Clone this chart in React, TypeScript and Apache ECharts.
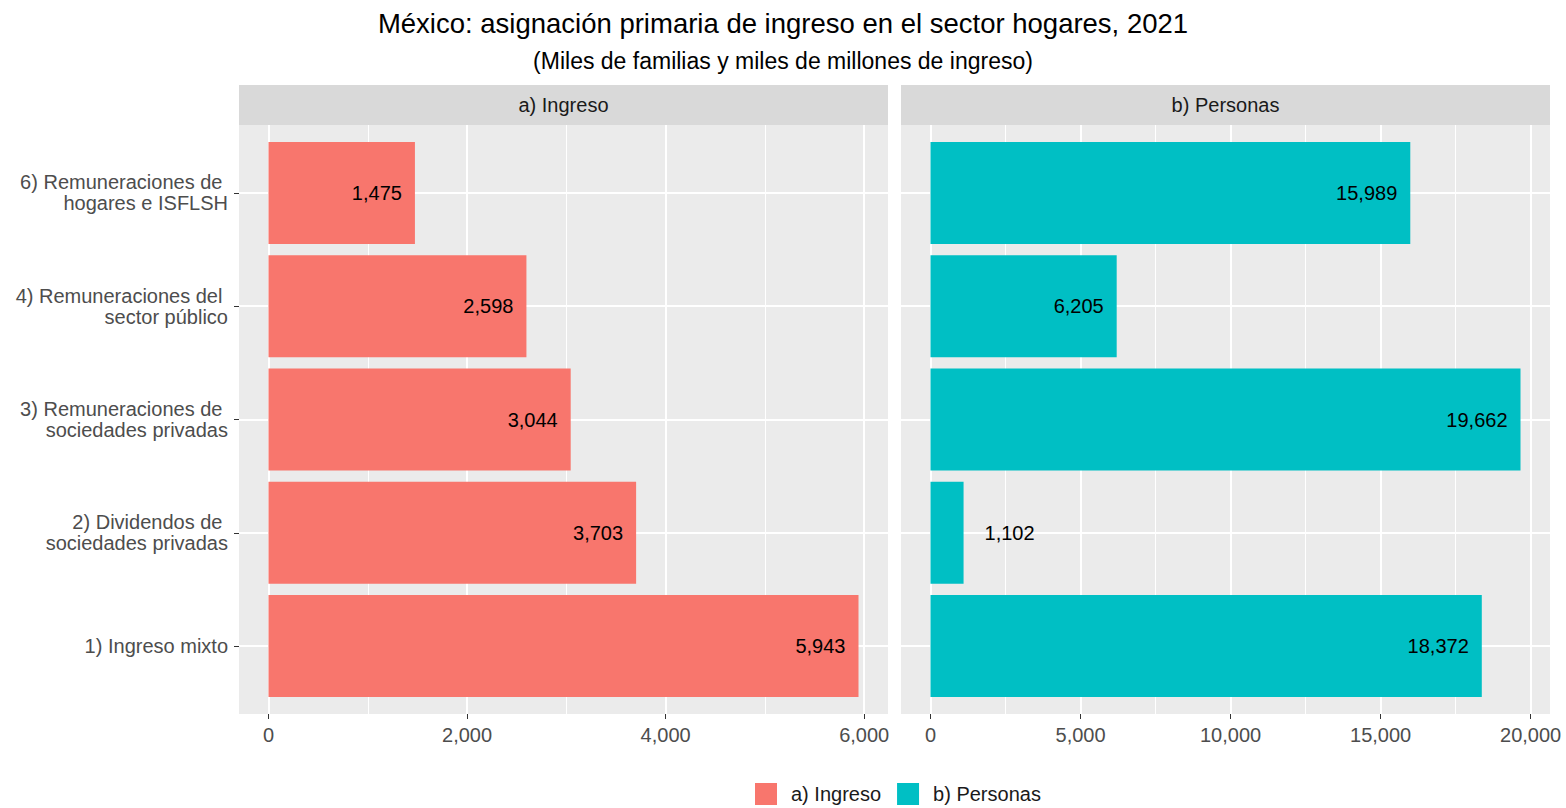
import React, { useEffect, useRef } from "react";
import * as echarts from "echarts";

const categories = [
  "1) Ingreso mixto",
  "2) Dividendos de \nsociedades privadas",
  "3) Remuneraciones de \nsociedades privadas",
  "4) Remuneraciones del \nsector público",
  "6) Remuneraciones de \nhogares e ISFLSH",
];
const ingreso = [5943, 3703, 3044, 2598, 1475];
const personas = [18372, 1102, 19662, 6205, 15989];
const ingresoTicks = [0, 2000, 4000, 6000];
const ingresoMinor = [1000, 3000, 5000];
const personasTicks = [0, 5000, 10000, 15000, 20000];
const personasMinor = [2500, 7500, 12500, 17500];
const panelNames = ["a) Ingreso", "b) Personas"];
const colors = ["#F8766D", "#00BFC4"];

const FONT = '"Liberation Sans", Arial, Helvetica, sans-serif';
const fmt = (v: number) => v.toLocaleString("en-US");

export default function App() {
  const ref = useRef<HTMLDivElement>(null);
  useEffect(() => {
    if (!ref.current) return;
    const chart = echarts.init(ref.current, undefined, { renderer: "svg" });

    const PT = 125, PB = 714, PH = PB - PT;
    const step = PH / 5.2;
    const inset = step * 0.1;
    const panels = [
      { x: 239, w: 649 },
      { x: 901, w: 649 },
    ];
    const exp = (arr: number[]) => {
      const m = Math.max(...arr);
      return [-0.05 * m, m * 1.05];
    };
    const extA = exp(ingreso);
    const extB = exp(personas);

    const grids: any[] = [];
    panels.forEach((p) => {
      grids.push({ left: p.x, top: PT, width: p.w, height: PH, show: true, backgroundColor: "#EBEBEB", borderWidth: 0 });
      grids.push({ left: p.x, top: PT + inset, width: p.w, height: PH - 2 * inset, show: false });
    });

    const tickStyle = { show: true, length: 5, lineStyle: { color: "#333333", width: 1 } };
    const labelStyle = { color: "#4D4D4D", fontSize: 20, fontFamily: FONT };
    const noLine = { show: false, onZero: false };

    const mkX = (grid: number, ext: number[], major: number[], minor: number[]) => [
      {
        type: "value", gridIndex: grid, min: ext[0], max: ext[1], position: "bottom",
        axisLine: noLine,
        axisTick: { ...tickStyle, customValues: major },
        axisLabel: { ...labelStyle, customValues: major, formatter: (v: number) => fmt(v), margin: 11 },
        splitLine: { show: true, lineStyle: { color: "#FFFFFF", width: 2 } },
      },
      {
        type: "value", gridIndex: grid, min: ext[0], max: ext[1], position: "bottom",
        axisLine: noLine,
        axisTick: { show: false, customValues: minor },
        axisLabel: { show: false, customValues: minor },
        splitLine: { show: true, lineStyle: { color: "#FFFFFF", width: 1 } },
      },
      {
        type: "value", gridIndex: grid + 1, min: ext[0], max: ext[1], show: false,
        axisLine: noLine,
        splitLine: { show: false },
      },
    ];
    const xAxes = [...mkX(0, extA, ingresoTicks, ingresoMinor), ...mkX(2, extB, personasTicks, personasMinor)];

    const idx = categories.map((_, i) => i);
    const mkY = (grid: number, withLabels: boolean) => [
      {
        type: "value", gridIndex: grid, min: -0.6, max: 4.6, position: "left",
        axisLine: noLine,
        axisTick: withLabels ? { ...tickStyle, customValues: idx } : { show: false, customValues: idx },
        axisLabel: withLabels
          ? { ...labelStyle, customValues: idx, lineHeight: 21, align: "right", margin: 11, padding: [4, 0, 0, 0], formatter: (v: number) => categories[Math.round(v)] }
          : { show: false, customValues: idx },
        splitLine: { show: true, lineStyle: { color: "#FFFFFF", width: 2 } },
      },
      {
        type: "category", gridIndex: grid + 1, data: categories, show: false,
        axisLine: noLine,
        axisTick: { show: false }, splitLine: { show: false },
      },
    ];
    const yAxes = [...mkY(0, true), ...mkY(2, false)];

    const labelBase = { show: true, color: "#000000", fontSize: 20, fontFamily: FONT, formatter: (p: any) => fmt(p.value) };
    const mkData = (vals: number[]) => {
      const m = Math.max(...vals);
      return vals.map((v) => ({
        value: v,
        label: v < m * 0.1
          ? { ...labelBase, position: "right", distance: 21 }
          : { ...labelBase, position: "insideRight", distance: 13 },
      }));
    };

    const graphics: any[] = [];
    panels.forEach((p, i) => {
      graphics.push({ type: "rect", left: p.x, top: 85, shape: { width: p.w, height: 40 }, style: { fill: "#D9D9D9" }, silent: true });
      graphics.push({
        type: "text", x: p.x + p.w / 2, y: 105,
        style: { text: panelNames[i], fill: "#1A1A1A", fontSize: 20, fontFamily: FONT, align: "center", verticalAlign: "middle" },
        silent: true,
      });
    });

    chart.setOption({
      animation: false,
      backgroundColor: "#FFFFFF",
      textStyle: { fontFamily: FONT },
      title: [
        { text: "México: asignación primaria de ingreso en el sector hogares, 2021", left: "center", top: 4, textStyle: { fontSize: 27.5, fontWeight: "normal", color: "#000000", fontFamily: FONT } },
        { text: "(Miles de familias y miles de millones de ingreso)", left: "center", top: 44, textStyle: { fontSize: 23, fontWeight: "normal", color: "#000000", fontFamily: FONT } },
      ],
      legend: {
        data: panelNames, left: 750, top: 778, icon: "rect", itemWidth: 22, itemHeight: 22, itemGap: 16,
        textStyle: { fontSize: 20, color: "#1A1A1A", fontFamily: FONT, padding: [0, 0, 0, 9] },
      },
      grid: grids,
      xAxis: xAxes,
      yAxis: yAxes,
      graphic: graphics,
      series: [
        { name: panelNames[0], type: "bar", xAxisIndex: 2, yAxisIndex: 1, barWidth: "90%", itemStyle: { color: colors[0] }, data: mkData(ingreso) },
        { name: panelNames[1], type: "bar", xAxisIndex: 5, yAxisIndex: 3, barWidth: "90%", itemStyle: { color: colors[1] }, data: mkData(personas) },
      ],
    });
    return () => chart.dispose();
  }, []);
  return <div ref={ref} style={{ position: "fixed", left: 0, top: 0, width: 1566, height: 808 }} />;
}
